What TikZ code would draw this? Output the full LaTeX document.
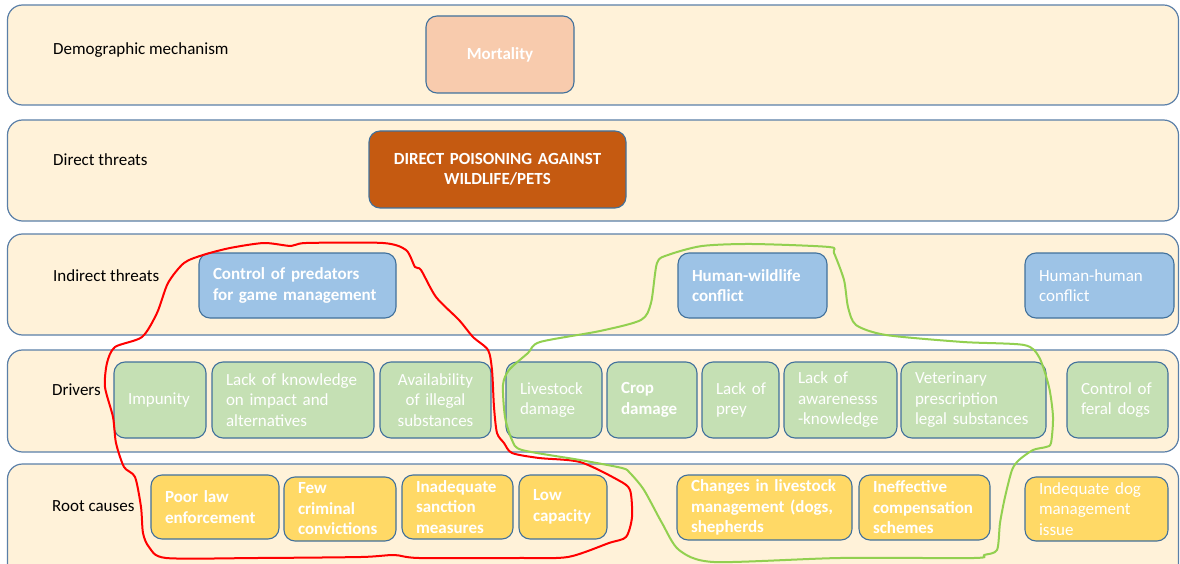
\documentclass[tikz,border=0pt]{standalone}
\usepackage{fontspec}
\setmainfont{Carlito}
\definecolor{bandfill}{HTML}{FFF2D9}
\definecolor{bandline}{HTML}{5A7FA8}
\definecolor{boxline}{HTML}{41719C}
\definecolor{mortfill}{HTML}{F8CBAD}
\definecolor{directfill}{HTML}{C55A11}
\definecolor{indfill}{HTML}{9DC3E6}
\definecolor{drvfill}{HTML}{C5E0B4}
\definecolor{rootfill}{HTML}{FFD966}
\definecolor{loopred}{HTML}{FF0000}
\definecolor{loopgreen}{HTML}{92D050}
\newcommand\cellfont{\fontsize{17}{20.5}\selectfont}
% cell box from corner (#3,#4) to corner (#5,#6)
\newcommand\cellbox[7]{%
  \pgfmathsetmacro\cbw{#5-#3-28}%
  \pgfmathsetmacro\cbh{#6-#4}%
  \node[#1, text width=\cbw pt, minimum height=\cbh pt] (#2) at ({(#3+#5)/2},{(#4+#6)/2}) {#7};}
\begin{document}
\begin{tikzpicture}[x=1pt,y=-1pt,
  band/.style={draw=bandline, fill=bandfill, rounded corners=15pt, line width=1.2pt},
  lbl/.style={anchor=west, inner sep=0pt, font=\cellfont, text=black},
  cellbase/.style={draw=boxline, line width=1.1pt, rounded corners=11pt,
    inner xsep=14pt, inner ysep=0pt, text=white, font=\cellfont, align=left},
  mort/.style={cellbase, fill=mortfill, font=\cellfont\bfseries, align=center},
  direct/.style={cellbase, fill=directfill, font=\cellfont\bfseries, align=center},
  ind/.style={cellbase, fill=indfill},
  indb/.style={ind, font=\cellfont\bfseries},
  drv/.style={cellbase, fill=drvfill},
  drvb/.style={drv, font=\cellfont\bfseries},
  root/.style={cellbase, fill=rootfill},
  rootb/.style={root, font=\cellfont\bfseries},
  loop/.style={line width=2pt, line join=round}]
\useasboundingbox (0,0) rectangle (1180,564);

% horizontal bands
\draw[band] (7.5,5) rectangle (1178.5,105);
\draw[band] (7.5,120) rectangle (1178.5,221);
\draw[band] (7.5,234) rectangle (1178.5,335);
\draw[band] (7.5,350) rectangle (1178.5,452);
\draw[band] (7.5,464) rectangle (1178.5,590);

% band labels
\node[lbl] (lDemo) at (53,50) {Demographic mechanism};
\node[lbl] (lDirect) at (53,160) {Direct threats};
\node[lbl] (lIndirect) at (53,276) {Indirect threats};
\node[lbl] (lDrivers) at (52,390) {Drivers};
\node[lbl] (lRoot) at (52,506) {Root causes};

% demographic mechanism and direct threat
\cellbox{mort}{mortality}{426}{16}{574}{93}{Mortality}
\cellbox{direct}{poison}{369}{131}{626}{208}{DIRECT POISONING AGAINST\\WILDLIFE/PETS}

% indirect threats
\cellbox{indb}{predators}{199}{253}{396}{318}{Control of predators\\for game management}
\cellbox{indb}{hwc}{678}{253}{827}{318}{Human-wildlife\\conflict}
\cellbox{ind}{hhc}{1025}{253}{1174}{318}{Human-human\\conflict}

% drivers
\cellbox{drv}{impunity}{114}{362}{206}{438}{Impunity}
\cellbox{drv}{knowledge}{212}{362}{374}{438}{Lack of knowledge\\on impact and\\alternatives}
\cellbox{drv, align=center}{avail}{380}{362}{491}{438}{Availability\\of illegal\\substances}
\cellbox{drv}{livestock}{506}{362}{602}{438}{Livestock\\damage}
\cellbox{drvb}{crop}{607}{362}{697}{438}{Crop\\damage}
\cellbox{drv}{prey}{702}{362}{779}{438}{Lack~of\\prey}
\cellbox{drv}{awareness}{784}{362}{897}{438}{Lack~of\\awarenesss\\-knowledge}
\cellbox{drv}{vet}{901}{362}{1046}{438}{Veterinary\\prescription\\legal~substances}
\cellbox{drv}{feral}{1067}{362}{1168}{438}{Control~of\\feral~dogs}

% root causes
\cellbox{rootb}{poorlaw}{151}{475}{279}{539}{Poor~law\\enforcement}
\cellbox{rootb}{convict}{284}{477}{396}{541}{Few\\criminal\\convictions}
\cellbox{rootb}{sanction}{402}{475}{513}{539}{Inadequate\\sanction\\measures}
\cellbox{rootb}{capacity}{519}{475}{607}{539}{Low\\capacity}
\cellbox{rootb}{changes}{677}{475}{852}{540}{Changes~in~livestock\\management~(dogs,\\shepherds}
\cellbox{rootb}{compens}{859}{475}{990}{540}{Ineffective\\compensation\\schemes}
\cellbox{root}{dogmgmt}{1025}{477}{1168}{541}{Indequate~dog\\management\\issue}

% freehand outline around the game-management chain
\draw[loop, loopred] plot[smooth cycle, tension=0.45] coordinates {
  (264,243) (291,246) (306,243) (383,243) (406,250) (415,267) (421,270)
  (436,297) (459,320) (473,337) (488,350) (492,370) (494,407) (497,433)
  (504,443) (512,453) (539,458) (580,462) (618,480) (630,490) (632,517)
  (626,537) (609,543) (568,557) (518,558) (419,558) (394,555) (361,557)
  (257,558) (166,558) (149,547) (143,533) (141,507) (135,477) (124,467)
  (116,443) (113,417) (105,387) (107,363) (115,347) (142,337) (157,313)
  (168,283) (184,263) (203,255) (230,248)};

% freehand outline around the human-wildlife conflict chain
\draw[loop, loopgreen] plot[smooth cycle, tension=0.45] coordinates {
  (668,255) (702,246) (752,244) (829,247) (834,253) (844,280) (848,307)
  (856,325) (886,335) (963,342) (1024,345) (1039,357) (1049,387)
  (1053,417) (1051,443) (1046,447) (1033,450) (1019,460) (1012,470)
  (1005,497) (1000,523) (997,550) (984,555) (974,558) (840,558)
  (714,562) (679,550) (662,523) (644,490) (630,473) (622,468) (580,460)
  (522,450) (512,440) (505,417) (503,385) (509,370) (528,353) (540,342)
  (600,331) (641,320) (651,303) (657,263)};
\end{tikzpicture}
\end{document}
